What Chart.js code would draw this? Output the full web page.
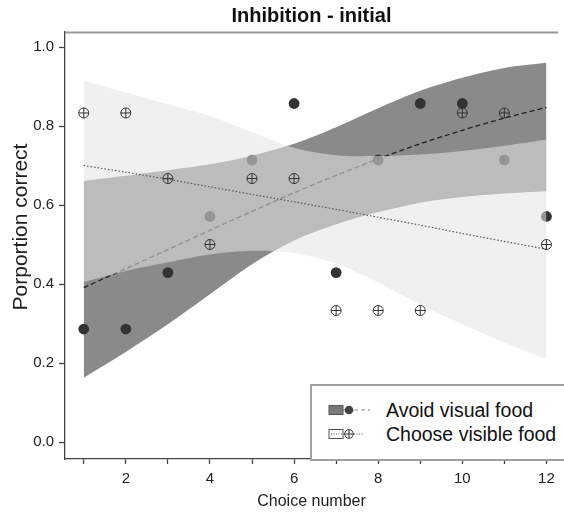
<!DOCTYPE html>
<html>
<head>
<meta charset="utf-8">
<script src="https://cdn.jsdelivr.net/npm/chart.js@4/dist/chart.umd.min.js"></script>
<style>
  html, body { margin: 0; padding: 0; background: #fff; }
  #wrap { position: relative; width: 564px; height: 514px; overflow: hidden; }
  #legend { position: absolute; left: 310px; top: 384px; width: 270px; height: 73px;
            border: 2px solid #a0a0a0; background: #fff; box-sizing: content-box;
            font-family: "Liberation Sans", Arial, sans-serif; font-size: 19.5px; color: #111; }
  .row { position: absolute; left: 0; height: 24px; line-height: 24px; white-space: nowrap; }
  .row svg { position: absolute; left: 16px; top: 6px; }
  .row span { position: absolute; left: 74px; }
</style>
</head>
<body>
<div id="wrap">
  <canvas id="c" width="564" height="514"></canvas>
  <div id="legend">
    <div class="row" style="top:12px">
      <svg width="44" height="12" viewBox="0 0 44 12">
        <rect x="1" y="1.5" width="14" height="9" fill="#7a7a7a" stroke="#555" stroke-width="1"/>
        <line x1="15" y1="6" x2="22" y2="6" stroke="#666" stroke-width="1.2" stroke-dasharray="3,2"/>
        <circle cx="21" cy="6" r="4.3" fill="#444"/>
        <line x1="26" y1="6" x2="42" y2="6" stroke="#888" stroke-width="1.2" stroke-dasharray="4,3"/>
      </svg>
      <span>Avoid visual food</span>
    </div>
    <div class="row" style="top:36px">
      <svg width="44" height="12" viewBox="0 0 44 12">
        <rect x="1" y="1.5" width="14" height="9" fill="#fff" stroke="#555" stroke-width="1"/>
        <line x1="3" y1="6" x2="16" y2="6" stroke="#555" stroke-width="1" stroke-dasharray="1,1.5"/>
        <circle cx="21" cy="6" r="4.3" fill="none" stroke="#333" stroke-width="1"/>
        <line x1="16.7" y1="6" x2="25.3" y2="6" stroke="#333" stroke-width="1"/>
        <line x1="21" y1="1.7" x2="21" y2="10.3" stroke="#333" stroke-width="1"/>
        <line x1="26" y1="6" x2="36" y2="6" stroke="#555" stroke-width="1" stroke-dasharray="1,1.5"/>
      </svg>
      <span>Choose visible food</span>
    </div>
  </div>
</div>
<script>
// ---- data ----
const choiceNumbers = [1, 2, 3, 4, 5, 6, 7, 8, 9, 10, 11, 12];
const avoidObserved  = [0.286, 0.286, 0.429, 0.571, 0.714, 0.857, 0.429, 0.714, 0.857, 0.857, 0.714, 0.571];
const chooseObserved = [0.833, 0.833, 0.667, 0.5, 0.667, 0.667, 0.333, 0.333, 0.333, 0.833, 0.833, 0.5];
const avoidFit   = [0.391, 0.439, 0.487, 0.536, 0.584, 0.631, 0.675, 0.717, 0.755, 0.789, 0.820, 0.847];
const avoidLower = [0.163, 0.228, 0.298, 0.374, 0.450, 0.510, 0.551, 0.582, 0.606, 0.620, 0.629, 0.635];
const avoidUpper = [0.661, 0.674, 0.688, 0.703, 0.725, 0.755, 0.797, 0.845, 0.889, 0.922, 0.947, 0.960];
const chooseFit   = [0.700, 0.683, 0.665, 0.646, 0.627, 0.608, 0.589, 0.569, 0.549, 0.528, 0.508, 0.488];
const chooseLower = [0.405, 0.433, 0.455, 0.475, 0.484, 0.478, 0.452, 0.404, 0.348, 0.298, 0.252, 0.209];
const chooseUpper = [0.914, 0.885, 0.855, 0.825, 0.785, 0.745, 0.726, 0.724, 0.728, 0.737, 0.750, 0.766];
const xTickValues = [1, 2, 3, 4, 5, 6, 7, 8, 9, 10, 11, 12];
const yTickValues = [0, 0.2, 0.4, 0.6, 0.8, 1.0];
const yAxisTitle = 'Porportion correct';

const pts = arr => choiceNumbers.map((x, i) => ({ x: x, y: arr[i] }));
const FONT = '"Liberation Sans", Arial, sans-serif';
const NONE = 'rgba(0,0,0,0)';

const frameAndTitle = {
  id: 'frameAndTitle',
  afterDraw(chart) {
    const { ctx, chartArea: a } = chart;
    ctx.save();
    ctx.strokeStyle = '#999';
    ctx.lineWidth = 2;
    ctx.beginPath();
    ctx.moveTo(a.left, a.top + 0.5);
    ctx.lineTo(a.right, a.top + 0.5);
    ctx.stroke();
    // y axis title
    ctx.translate(21, 227);
    ctx.rotate(-Math.PI / 2);
    ctx.fillStyle = '#222';
    ctx.font = '21px ' + FONT;
    ctx.textAlign = 'center';
    ctx.textBaseline = 'middle';
    ctx.fillText(yAxisTitle, 0, 0);
    ctx.restore();
  }
};

new Chart(document.getElementById('c'), {
  type: 'scatter',
  data: {
    datasets: [
      { label: 'avoidLower', data: pts(avoidLower), showLine: true, borderColor: NONE, borderWidth: 1,
        pointRadius: 0, fill: false, tension: 0.3, order: 20 },
      { label: 'avoidUpper', data: pts(avoidUpper), showLine: true, borderColor: NONE, borderWidth: 1,
        pointRadius: 0, fill: '-1', backgroundColor: '#8a8a8a', tension: 0.3, order: 19 },
      { label: 'Avoid visual food', data: pts(avoidObserved), showLine: false, pointRadius: 5.4,
        pointStyle: 'circle', backgroundColor: '#333', borderColor: '#333', borderWidth: 0, order: 18 },
      { label: 'avoidFit', data: pts(avoidFit), showLine: true, borderColor: '#222', borderWidth: 1.3,
        borderDash: [5, 3], pointRadius: 0, fill: false, tension: 0.3, order: 17 },
      { label: 'chooseLower', data: pts(chooseLower), showLine: true, borderColor: NONE, borderWidth: 1,
        pointRadius: 0, fill: false, tension: 0.3, order: 16 },
      { label: 'chooseUpper', data: pts(chooseUpper), showLine: true, borderColor: NONE, borderWidth: 1,
        pointRadius: 0, fill: '-1', backgroundColor: 'rgba(228,228,228,0.555)', tension: 0.3, order: 15 },
      { label: 'chooseFit', data: pts(chooseFit), showLine: true, borderColor: '#555', borderWidth: 1.2,
        borderDash: [1.5, 2], pointRadius: 0, fill: false, tension: 0.3, order: 14 },
      { label: 'Choose visible food', data: pts(chooseObserved), showLine: false, pointRadius: 5,
        pointStyle: 'circle', backgroundColor: NONE, borderColor: '#333', borderWidth: 1, order: 13 },
      { label: 'chooseCross', data: pts(chooseObserved), showLine: false, pointRadius: 5,
        pointStyle: 'cross', borderColor: '#333', borderWidth: 1, order: 12 }
    ]
  },
  options: {
    responsive: false,
    animation: false,
    devicePixelRatio: 1,
    layout: { padding: { left: 0, right: 0, top: 0, bottom: 0 } },
    plugins: {
      legend: { display: false },
      tooltip: { enabled: false },
      title: {
        display: true, text: 'Inhibition - initial', fullSize: false, color: '#111',
        font: { family: FONT, size: 20, weight: 'bold' }, padding: { top: 4, bottom: 4 }
      }
    },
    scales: {
      x: {
        type: 'linear', min: 0.554, max: 12.275,
        afterFit: s => { s.height = 55; },
        afterBuildTicks: s => { s.ticks = xTickValues.map(v => ({ value: v })); },
        ticks: { autoSkip: false, maxRotation: 0, color: '#222', padding: 6,
                 font: { family: FONT, size: 15 },
                 callback: v => (v % 2 === 0 ? String(v) : '') },
        grid: { drawOnChartArea: false, drawTicks: true, tickLength: 5, color: '#444', tickWidth: 1.3 },
        border: { display: true, color: '#444', width: 1.3 },
        title: { display: true, text: 'Choice number', color: '#222',
                 font: { family: FONT, size: 16 }, padding: { top: 0, bottom: 3 } }
      },
      y: {
        type: 'linear', min: -0.043, max: 1.038,
        afterFit: s => { s.width = 65; },
        afterBuildTicks: s => { s.ticks = yTickValues.map(v => ({ value: v })); },
        ticks: { color: '#222', padding: 5, font: { family: FONT, size: 15 },
                 callback: v => Number(v).toFixed(1) },
        grid: { drawOnChartArea: false, drawTicks: true, tickLength: 6, color: '#444', tickWidth: 1.3 },
        border: { display: true, color: '#444', width: 1.3 },
        title: { display: false }
      }
    }
  },
  plugins: [frameAndTitle]
});
</script>
</body>
</html>
